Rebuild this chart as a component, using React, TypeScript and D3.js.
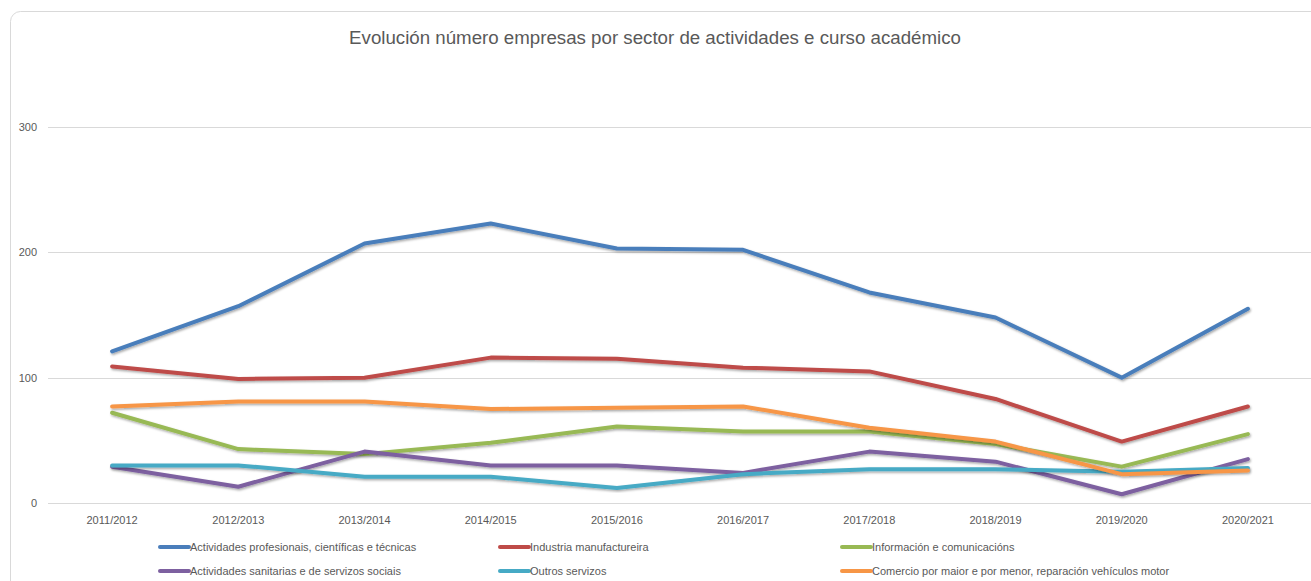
import { useEffect, useRef } from 'react';
import * as d3 from 'd3';

const courses = [
  '2011/2012', '2012/2013', '2013/2014', '2014/2015', '2015/2016',
  '2016/2017', '2017/2018', '2018/2019', '2019/2020', '2020/2021'
];

const profesionais = [121, 157, 207, 223, 203, 202, 168, 148, 100, 155];
const industria = [109, 99, 100, 116, 115, 108, 105, 83, 49, 77];
const informacion = [72, 43, 39, 48, 61, 57, 57, 47, 29, 55];
const sanitarias = [29, 13, 41, 30, 30, 24, 41, 33, 7, 35];
const outros = [30, 30, 21, 21, 12, 23, 27, 27, 25, 28];
const comercio = [77, 81, 81, 75, 76, 77, 60, 49, 23, 26];

const yTicks = [0, 100, 200, 300];

const series = [
  { name: 'Actividades profesionais, científicas e técnicas', values: profesionais, color: '#4A7EBB' },
  { name: 'Industria manufactureira', values: industria, color: '#BE4B48' },
  { name: 'Información e comunicacións', values: informacion, color: '#98B954' },
  { name: 'Actividades sanitarias e de servizos sociais', values: sanitarias, color: '#7D60A0' },
  { name: 'Outros servizos', values: outros, color: '#46AAC5' },
  { name: 'Comercio por maior e por menor, reparación vehículos motor', values: comercio, color: '#F79646' }
];

export default function App() {
  const svgRef = useRef<SVGSVGElement>(null);

  useEffect(() => {
    if (!svgRef.current) return;
    const width = 1311;
    const height = 581;
    const margin = { top: 127, right: 0, bottom: 78, left: 49 };
    const font = '"Liberation Sans", Arial, sans-serif';

    const svg = d3.select(svgRef.current);
    svg.selectAll('*').remove();
    svg.attr('width', width).attr('height', height);

    const defs = svg.append('defs');
    const filter = defs.append('filter')
      .attr('id', 'shadow')
      .attr('x', '-5%').attr('y', '-20%')
      .attr('width', '110%').attr('height', '140%');
    filter.append('feDropShadow')
      .attr('dx', 1).attr('dy', 1.5)
      .attr('stdDeviation', 1)
      .attr('flood-color', '#000')
      .attr('flood-opacity', 0.35);

    svg.append('rect')
      .attr('x', 10.5).attr('y', 11.5)
      .attr('width', 1340).attr('height', 620)
      .attr('rx', 10)
      .attr('fill', 'white')
      .attr('stroke', '#d9d9d9');

    svg.append('text')
      .attr('x', 655)
      .attr('y', 44)
      .attr('text-anchor', 'middle')
      .style('font-family', font)
      .style('font-size', '18.7px')
      .attr('fill', '#595959')
      .text('Evolución número empresas por sector de actividades e curso académico');

    const x = d3.scaleBand<string>()
      .domain(courses)
      .range([margin.left, width - margin.right]);

    const y = d3.scaleLinear()
      .domain([0, 300])
      .range([height - margin.bottom, margin.top]);

    const grid = svg.append('g');
    yTicks.forEach(t => {
      grid.append('line')
        .attr('x1', margin.left - 1).attr('x2', width)
        .attr('y1', Math.round(y(t)) + 0.5).attr('y2', Math.round(y(t)) + 0.5)
        .attr('stroke', '#d9d9d9');
      grid.append('text')
        .attr('x', 37)
        .attr('y', y(t))
        .attr('dy', '0.35em')
        .attr('text-anchor', 'end')
        .style('font-family', font)
        .style('font-size', '11px')
        .attr('fill', '#595959')
        .text(t);
    });

    courses.forEach(c => {
      svg.append('text')
        .attr('x', (x(c) ?? 0) + x.bandwidth() / 2)
        .attr('y', 524)
        .attr('text-anchor', 'middle')
        .style('font-family', font)
        .style('font-size', '11px')
        .attr('fill', '#595959')
        .text(c);
    });

    const line = d3.line<number>()
      .x((_, i) => (x(courses[i]) ?? 0) + x.bandwidth() / 2)
      .y(d => y(d));

    series.forEach(s => {
      svg.append('path')
        .datum(s.values)
        .attr('d', line)
        .attr('fill', 'none')
        .attr('stroke', s.color)
        .attr('stroke-width', 4)
        .attr('stroke-linejoin', 'round')
        .attr('stroke-linecap', 'round')
        .attr('filter', 'url(#shadow)');
    });

    const legendCols = [160, 500, 842];
    const legendRows = [547, 571];
    series.forEach((s, i) => {
      const lx = legendCols[i % 3];
      const ly = legendRows[Math.floor(i / 3)];
      const g = svg.append('g').attr('transform', `translate(${lx},${ly})`);
      g.append('line')
        .attr('x1', 0).attr('x2', 29)
        .attr('y1', 0).attr('y2', 0)
        .attr('stroke', s.color)
        .attr('stroke-width', 4)
        .attr('stroke-linecap', 'round');
      g.append('text')
        .attr('x', 30)
        .attr('y', 0)
        .attr('dy', '0.35em')
        .style('font-family', font)
        .style('font-size', '11px')
        .attr('fill', '#595959')
        .text(s.name);
    });
  }, []);

  return (
    <svg
      ref={svgRef}
      style={{ position: 'absolute', left: 0, top: 0, display: 'block' }}
    />
  );
}
